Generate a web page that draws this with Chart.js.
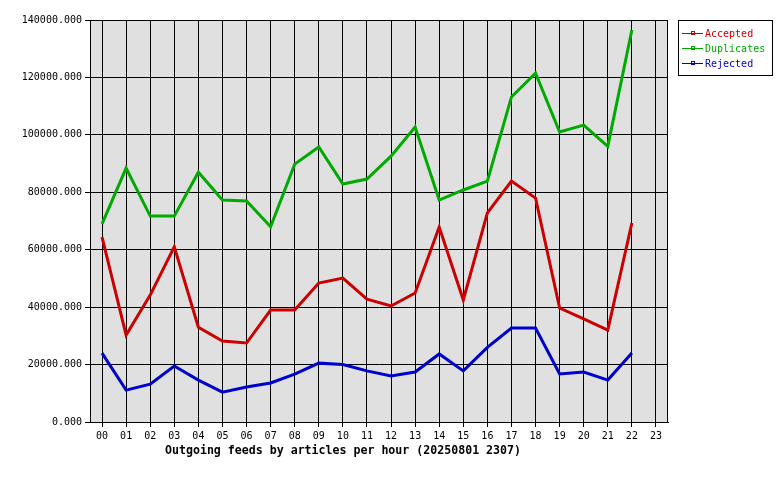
<!DOCTYPE html>
<html><head><meta charset="utf-8">
<script src="https://cdn.jsdelivr.net/npm/chart.js@4/dist/chart.umd.min.js"></script>
<style>html,body{margin:0;padding:0;background:#fff}canvas{display:block}</style>
</head><body>
<canvas id="c" width="780" height="480"></canvas>
<script>
const hours = ["00","01","02","03","04","05","06","07","08","09","10","11","12","13","14","15","16","17","18","19","20","21","22","23"];
const accepted = [64400,30300,44200,61000,33000,28200,27500,39000,39000,48400,50100,42800,40400,44900,67900,42500,72800,83900,78000,39700,35900,32000,69300,null];
const duplicates = [69000,88400,71700,71700,87000,77300,77000,68000,89800,95800,82900,84600,92600,102700,77300,80800,83900,113200,121500,101000,103400,96000,136500,null];
const rejected = [24000,11100,13200,19500,14600,10400,12200,13600,16700,20500,20000,17800,16000,17400,23700,17800,26000,32700,32700,16700,17400,14600,24000,null];
const seriesNames = ["Accepted","Duplicates","Rejected"];
const seriesColors = ["#cc0000","#00aa00","#0000cc"];
const titleText = "Outgoing feeds by articles per hour (20250801 2307)";
const MONO = "'DejaVu Sans Mono', monospace";

const bgPlugin = {
  id: 'bg',
  beforeDraw(chart) {
    const {ctx, chartArea: a} = chart;
    ctx.save();
    ctx.fillStyle = '#fff';
    ctx.fillRect(0, 0, chart.width, chart.height);
    ctx.fillStyle = '#e0e0e0';
    ctx.fillRect(a.left, a.top, a.right - a.left, a.bottom - a.top);
    ctx.restore();
  },
  beforeDatasetsDraw(chart) {
    const {ctx, chartArea: a} = chart;
    ctx.save();
    ctx.strokeStyle = '#000';
    ctx.lineWidth = 1;
    ctx.strokeRect(a.left + 0.5, a.top + 0.5, a.right - a.left - 1, a.bottom - a.top);
    ctx.restore();
  },
  afterDraw(chart) {
    const {ctx} = chart;
    ctx.save();
    // title
    ctx.fillStyle = '#000';
    ctx.font = "bold 11.6px " + MONO;
    ctx.textAlign = 'center';
    ctx.textBaseline = 'middle';
    ctx.fillText(titleText, 343, 451);
    // legend
    const lx = 678, ly = 20, lw = 94, lh = 55;
    ctx.fillStyle = '#fff';
    ctx.fillRect(lx, ly, lw, lh);
    ctx.strokeStyle = '#000';
    ctx.lineWidth = 1;
    ctx.strokeRect(lx + 0.5, ly + 0.5, lw, lh);
    ctx.font = "10px " + MONO;
    ctx.textAlign = 'left';
    chart.data.datasets.forEach((ds, i) => {
      const y = 33 + i * 15;
      ctx.strokeStyle = ds.borderColor;
      ctx.beginPath();
      ctx.moveTo(682, y + 0.5);
      ctx.lineTo(703, y + 0.5);
      ctx.stroke();
      ctx.strokeRect(691.5, y - 1.5, 3, 3);
      ctx.fillStyle = ds.borderColor;
      ctx.fillText(ds.label, 705, y + 1);
    });
    ctx.restore();
  }
};

new Chart(document.getElementById('c'), {
  type: 'line',
  data: {
    labels: hours,
    datasets: [
      {label: seriesNames[0], data: accepted, borderColor: seriesColors[0]},
      {label: seriesNames[1], data: duplicates, borderColor: seriesColors[1]},
      {label: seriesNames[2], data: rejected, borderColor: seriesColors[2]}
    ].map(d => Object.assign(d, {borderWidth: 3, pointRadius: 0, tension: 0, fill: false, spanGaps: false}))
  },
  options: {
    responsive: false,
    devicePixelRatio: 1,
    animation: false,
    layout: {padding: {left: 0, top: 20, right: 112, bottom: 0}},
    plugins: {legend: {display: false}, title: {display: false}, tooltip: {enabled: false}},
    scales: {
      x: {
        offset: true,
        grid: {color: '#000', lineWidth: 1, tickLength: 5, offset: false, drawOnChartArea: true},
        border: {display: true, color: '#000'},
        ticks: {color: '#000', font: {family: MONO, size: 10}, padding: 3, maxRotation: 0, autoSkip: false},
        afterFit(s) { s.height = 58; }
      },
      y: {
        min: 0, max: 140000,
        grid: {color: '#000', lineWidth: 1, tickLength: 5},
        border: {display: true, color: '#000'},
        ticks: {stepSize: 20000, color: '#000', font: {family: MONO, size: 10}, padding: 3,
          callback: v => Number(v).toFixed(3)},
        afterFit(s) { s.width = 90; }
      }
    }
  },
  plugins: [bgPlugin]
});
</script>
</body></html>
